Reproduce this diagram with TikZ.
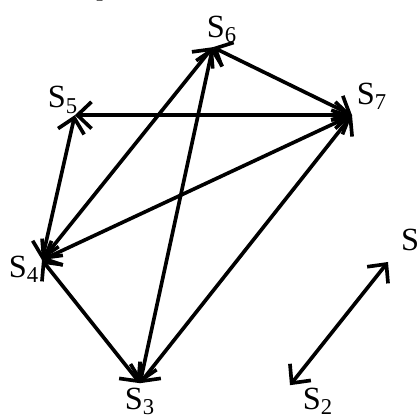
\documentclass[tikz,border=0pt]{standalone}
\usepackage{fontspec}
\setmainfont{Liberation Serif}
\usepackage{tikz}
\usetikzlibrary{arrows.meta,positioning}

\begin{document}
\begin{tikzpicture}[
    state/.style={font=\fontsize{23}{27}\selectfont, inner sep=1pt},
    link/.style={{Straight Barb[length=10pt,width=19pt,line width=2.6pt]}-{Straight Barb[length=10pt,width=19pt,line width=2.6pt]}, line width=2.6pt}]

    \useasboundingbox (0,0) rectangle (10.5,10.45);

    % Vertices
    \coordinate (v1) at (9.7,3.9);
    \coordinate (v2) at (7.25,0.82);
    \coordinate (v3) at (3.5,0.87);
    \coordinate (v4) at (1.05,3.95);
    \coordinate (v5) at (1.87,7.57);
    \coordinate (v6) at (5.32,9.27);
    \coordinate (v7) at (8.8,7.57);

    % Labels
    \node[state] (S1) at (10.4,4.4) {S\textsubscript{1}};
    \node[state] (S2) at (7.95,0.42) {S\textsubscript{2}};
    \node[state] (S3) at (3.5,0.42) {S\textsubscript{3}};
    \node[state] (S4) at (0.6,3.72) {S\textsubscript{4}};
    \node[state] (S5) at (1.57,7.95) {S\textsubscript{5}};
    \node[state] (S6) at (5.55,9.72) {S\textsubscript{6}};
    \node[state] (S7) at (9.3,8.05) {S\textsubscript{7}};
    \node[anchor=base, inner sep=0pt, font=\fontsize{20}{24}\selectfont] (top) at (2.62,10.57) {$p$};

    % Arcs
    \draw[link] (v5) -- (v7);
    \draw[link] (v6) -- (v7);
    \draw[link] (v4) -- (v5);
    \draw[link] (v4) -- (v6);
    \draw[link] (v4) -- (v7);
    \draw[link] (v3) -- (v6);
    \draw[link] (v3) -- (v7);
    \draw[link] (v3) -- (v4);
    \draw[link] (v2) -- (v1);
\end{tikzpicture}
\end{document}
